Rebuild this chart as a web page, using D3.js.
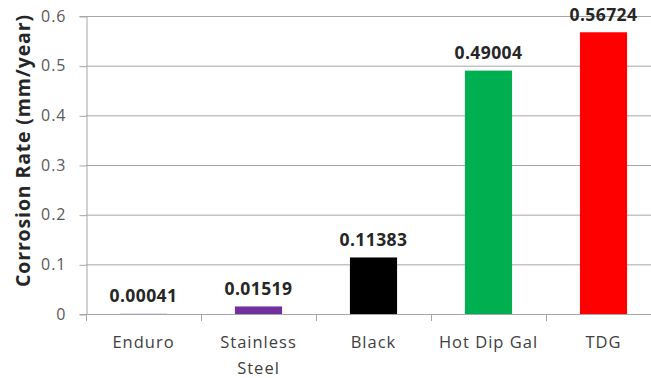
<!DOCTYPE html>
<html>
<head>
<meta charset="utf-8">
<script src="https://cdn.jsdelivr.net/npm/d3@7"></script>
<style>
  html, body { margin: 0; padding: 0; background: #fff; }
  svg { display: block; }
</style>
</head>
<body>
<svg id="chart" width="651" height="378"></svg>
<script>
// Corrosion rate per coating type
const categories = ["Enduro", "Stainless Steel", "Black", "Hot Dip Gal", "TDG"];
const values = [0.00041, 0.01519, 0.11383, 0.49004, 0.56724];
const labels = ["0.00041", "0.01519", "0.11383", "0.49004", "0.56724"];
const barColors = ["#4472C4", "#7030A0", "#000000", "#00B050", "#FF0000"];
const yTicks = [0, 0.1, 0.2, 0.3, 0.4, 0.5, 0.6];
const yTitle = "Corrosion Rate (mm/year)";

const FONT = "'Open Sans', 'Noto Sans', sans-serif";
const margin = { left: 86, top: 16, right: -10, bottom: 64 };
const W = 651, H = 378;
const svg = d3.select("#chart");

const x = d3.scaleBand()
  .domain(categories)
  .range([margin.left, W - margin.right])
  .paddingInner(0.59)
  .paddingOuter(0.295);

const y = d3.scaleLinear()
  .domain([0, 0.6])
  .range([H - margin.bottom, margin.top]);

// horizontal gridlines
svg.append("g")
  .selectAll("line")
  .data(yTicks.filter(d => d > 0))
  .join("line")
  .attr("x1", margin.left).attr("x2", W - margin.right)
  .attr("y1", d => y(d) + 0.5).attr("y2", d => y(d) + 0.5)
  .attr("stroke", "#a6a6a6").attr("stroke-width", 1);

// y axis
const yAxis = svg.append("g")
  .attr("transform", `translate(${margin.left + 0.5},0)`)
  .call(d3.axisLeft(y).tickValues(yTicks).tickFormat(d => d === 0 ? "0" : d3.format(".1f")(d)).tickSize(7).tickPadding(13));
yAxis.select(".domain").attr("stroke", "#a6a6a6");
yAxis.selectAll(".tick line").attr("stroke", "#a6a6a6").attr("transform", "translate(0,0.5)");
yAxis.selectAll(".tick text")
  .attr("font-family", FONT).attr("font-size", 16).attr("letter-spacing", 1)
  .attr("fill", "#595959");

// bars
svg.append("g")
  .selectAll("rect")
  .data(values)
  .join("rect")
  .attr("x", (d, i) => x(categories[i]))
  .attr("width", x.bandwidth())
  .attr("y", d => y(d))
  .attr("height", d => y(0) - y(d))
  .attr("fill", (d, i) => barColors[i]);

// value labels
svg.append("g")
  .selectAll("text")
  .data(values)
  .join("text")
  .attr("x", (d, i) => x(categories[i]) + x.bandwidth() / 2)
  .attr("y", d => y(d) - 11.5)
  .attr("text-anchor", "middle")
  .attr("font-family", FONT).attr("font-weight", "bold").attr("font-size", 17.5)
  .attr("letter-spacing", 0.4)
  .attr("fill", "#262626")
  .text((d, i) => labels[i]);

// x axis baseline with category separators
const step = x.step();
const x0 = margin.left;
svg.append("line")
  .attr("x1", x0).attr("x2", W - margin.right)
  .attr("y1", y(0) + 0.5).attr("y2", y(0) + 0.5)
  .attr("stroke", "#a6a6a6");
svg.append("g")
  .selectAll("line")
  .data(d3.range(categories.length + 1))
  .join("line")
  .attr("x1", i => Math.round(x0 + i * step) + 0.5)
  .attr("x2", i => Math.round(x0 + i * step) + 0.5)
  .attr("y1", y(0)).attr("y2", y(0) + 7)
  .attr("stroke", "#a6a6a6");

// category labels (wrapped)
const catG = svg.append("g");
categories.forEach(c => {
  const words = c === "Stainless Steel" ? ["Stainless", "Steel"] : [c];
  const cx = x(c) + x.bandwidth() / 2;
  const t = catG.append("text")
    .attr("x", cx)
    .attr("y", 348)
    .attr("text-anchor", "middle")
    .attr("font-family", FONT).attr("font-size", 16.5).attr("letter-spacing", 1)
    .attr("fill", "#404040");
  words.forEach((w, i) => {
    t.append("tspan").attr("x", cx).attr("dy", i === 0 ? 0 : 26).text(w);
  });
});

// y axis title
svg.append("text")
  .attr("transform", `translate(30,151) rotate(-90)`)
  .attr("text-anchor", "middle")
  .attr("font-family", FONT).attr("font-weight", "bold").attr("font-size", 19.5)
  .attr("textLength", 272).attr("lengthAdjust", "spacing")
  .attr("fill", "#262626")
  .text(yTitle);
</script>
</body>
</html>
